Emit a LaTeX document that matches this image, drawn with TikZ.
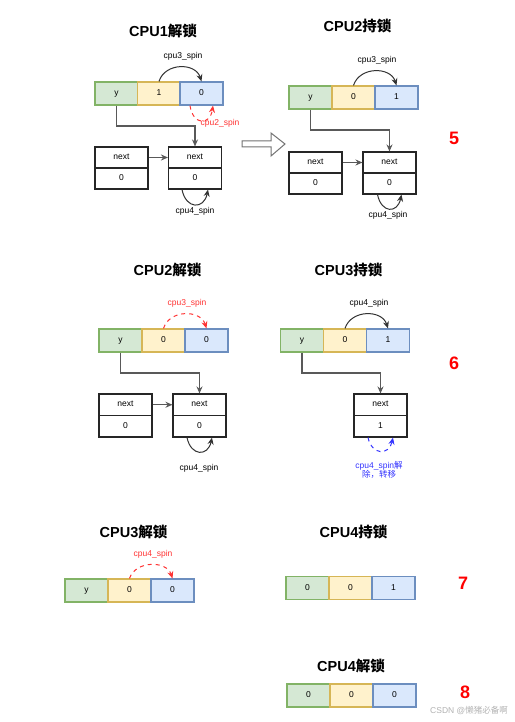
\documentclass[tikz,border=0pt]{standalone}
\usepackage{fontspec}
\setmainfont{Liberation Sans}
\newfontfamily\cjk{Noto Sans CJK SC}
\usetikzlibrary{arrows.meta,calc}
\definecolor{gfill}{HTML}{D5E8D4}\definecolor{gdraw}{HTML}{82B366}
\definecolor{yfill}{HTML}{FFF2CC}\definecolor{ydraw}{HTML}{D6B656}
\definecolor{bfill}{HTML}{DAE8FC}\definecolor{bdraw}{HTML}{6C8EBF}
\definecolor{lblred}{HTML}{FF3333}\definecolor{numred}{HTML}{FF0000}
\definecolor{lblblue}{HTML}{3333FF}
\begin{document}
\begin{tikzpicture}[x=1pt,y=-1pt,
  cell/.style={rectangle,inner sep=0pt,minimum width=43pt,minimum height=23pt,font=\fontsize{8.5}{10}\selectfont,text height=5.2pt,text depth=1.2pt,line width=1.2pt},
  gcell/.style={cell,fill=gfill,draw=gdraw},
  ycell/.style={cell,fill=yfill,draw=ydraw},
  bcell/.style={cell,fill=bfill,draw=bdraw},
  half/.style={rectangle,inner sep=0pt,minimum width=53pt,minimum height=21pt,draw=black!85,line width=1.1pt,fill=white,font=\fontsize{8.5}{10}\selectfont,text height=5.2pt,text depth=1.2pt},
  ttl/.style={font=\fontsize{14.5}{16}\selectfont\bfseries},
  lbl/.style={font=\fontsize{8.5}{10}\selectfont,inner sep=0pt},
  num/.style={font=\fontsize{18}{20}\selectfont\bfseries,text=numred},
  conn/.style={draw=black!65,line width=1.2pt,-{Stealth[length=7pt,width=6pt]}},
  spin/.style={draw=black!80,line width=1pt,-{Stealth[length=7pt,width=6pt]}},
  rspin/.style={draw=lblred,line width=1pt,dash pattern=on 4pt off 4pt,-{Stealth[length=7pt,width=6pt]}},
  bspin/.style={draw=lblblue,line width=1pt,dash pattern=on 4pt off 4pt,-{Stealth[length=7pt,width=6pt]}}
]
\useasboundingbox[fill=white] (0,0) rectangle (514,722);

% ---------- Panel 1: CPU1 unlock ----------
\node[ttl] (t1) at (163,31) {CPU1{\cjk 解锁}};
\node[gcell] (p1c1) at (116.5,93.5) {y};
\node[ycell] (p1c2) at (159,93.5) {1};
\node[bcell] (p1c3) at (201.5,93.5) {0};
\node[half] (p1a) at (121.5,157.5) {next};
\node[half] (p1av) at (121.5,178.5) {0};
\node[half] (p1b) at (195,157.5) {next};
\node[half] (p1bv) at (195,178.5) {0};
\draw[conn] (p1c1.south) -- (p1c1.south |- 0,126) -| (p1b.north);
\draw[conn] (p1a.east) -- (p1b.west);
\draw[spin] (p1c2.north) .. controls +(6,-19) and +(-6,-19) .. (p1c3.north);
\node[lbl] (l1a) at (183,56) {cpu3\_spin};
\draw[rspin] ([xshift=-11.5pt]p1c3.south) .. controls +(3,20) and +(-3,20) .. ([xshift=11.5pt]p1c3.south);
\node[lbl,text=lblred] (l1b) at (220,123) {cpu2\_spin};
\draw[spin] ([xshift=-13pt]p1bv.south) .. controls +(4,20) and +(-4,20) .. ([xshift=13pt]p1bv.south);
\node[lbl] (l1c) at (195,211) {cpu4\_spin};

% hollow arrow
\draw[draw=black!55,line width=1pt,fill=white] (242,141) -- (271,141) -- (271,133) -- (285,144) -- (271,156) -- (271,147) -- (242,147) -- cycle;

% ---------- Panel 2: CPU2 holds ----------
\node[ttl] (t2) at (357.5,26) {CPU2{\cjk 持锁}};
\node[gcell] (p2c1) at (310.5,97.5) {y};
\node[ycell] (p2c2) at (353.5,97.5) {0};
\node[bcell] (p2c3) at (396.5,97.5) {1};
\node[half] (p2a) at (315.5,162.5) {next};
\node[half] (p2av) at (315.5,183.5) {0};
\node[half] (p2b) at (389.5,162.5) {next};
\node[half] (p2bv) at (389.5,183.5) {0};
\draw[conn] (p2c1.south) -- (p2c1.south |- 0,130) -| (p2b.north);
\draw[conn] (p2a.east) -- (p2b.west);
\draw[spin] (p2c2.north) .. controls +(6,-19) and +(-6,-19) .. (p2c3.north);
\node[lbl] (l2a) at (377,60) {cpu3\_spin};
\draw[spin] ([xshift=-12pt]p2bv.south) .. controls +(4,19) and +(-4,19) .. ([xshift=12pt]p2bv.south);
\node[lbl] (l2c) at (388,215) {cpu4\_spin};
\node[num] (n5) at (454,138) {5};

% ---------- Panel 3: CPU2 unlock ----------
\node[ttl] (t3) at (167.5,270) {CPU2{\cjk 解锁}};
\node[gcell] (p3c1) at (120.5,340.5) {y};
\node[ycell] (p3c2) at (163.5,340.5) {0};
\node[bcell] (p3c3) at (206.5,340.5) {0};
\node[half,minimum height=21.5pt] (p3a) at (125.5,404.75) {next};
\node[half,minimum height=21.5pt] (p3av) at (125.5,426.25) {0};
\node[half,minimum height=21.5pt] (p3b) at (199.5,404.75) {next};
\node[half,minimum height=21.5pt] (p3bv) at (199.5,426.25) {0};
\draw[conn] (p3c1.south) -- (p3c1.south |- 0,373) -| (p3b.north);
\draw[conn] (p3a.east) -- (p3b.west);
\draw[rspin] (p3c2.north) .. controls +(6,-19) and +(-6,-19) .. (p3c3.north);
\node[lbl,text=lblred] (l3a) at (187,303) {cpu3\_spin};
\draw[spin] ([xshift=-12.5pt]p3bv.south) .. controls +(4,19) and +(-4,19) .. ([xshift=12.5pt]p3bv.south);
\node[lbl] (l3c) at (199,468) {cpu4\_spin};

% ---------- Panel 4: CPU3 holds ----------
\node[ttl] (t4) at (348.5,270) {CPU3{\cjk 持锁}};
\node[gcell] (p4c1) at (302,340.5) {y};
\node[ycell] (p4c2) at (345,340.5) {0};
\node[bcell] (p4c3) at (388,340.5) {1};
\node[half,minimum height=21.5pt] (p4b) at (380.5,404.75) {next};
\node[half,minimum height=21.5pt] (p4bv) at (380.5,426.25) {1};
\draw[conn] (p4c1.south) -- (p4c1.south |- 0,373) -| (p4b.north);
\draw[spin] (p4c2.north) .. controls +(6,-19) and +(-6,-19) .. (p4c3.north);
\node[lbl] (l4a) at (369,303) {cpu4\_spin};
\draw[bspin] ([xshift=-12.5pt]p4bv.south) .. controls +(4,18) and +(-4,18) .. ([xshift=12.5pt]p4bv.south);
\node[lbl,text=lblblue,align=center] (l4c) at (379,470) {cpu4\_spin{\cjk 解}\\[-1pt]{\cjk 除，转移}};
\node[num] (n6) at (454,363) {6};

% ---------- Panel 5: CPU3 unlock ----------
\node[ttl] (t5) at (133.5,532) {CPU3{\cjk 解锁}};
\node[gcell] (p5c1) at (86.5,590.5) {y};
\node[ycell] (p5c2) at (129.5,590.5) {0};
\node[bcell] (p5c3) at (172.5,590.5) {0};
\draw[rspin] (p5c2.north) .. controls +(6,-18) and +(-6,-18) .. (p5c3.north);
\node[lbl,text=lblred] (l5a) at (153,554) {cpu4\_spin};

% ---------- Panel 6: CPU4 holds ----------
\node[ttl] (t6) at (353.5,532) {CPU4{\cjk 持锁}};
\node[gcell] (p6c1) at (307.5,588) {0};
\node[ycell] (p6c2) at (350.5,588) {0};
\node[bcell] (p6c3) at (393.5,588) {1};
\node[num] (n7) at (463,583) {7};

% ---------- Panel 7: CPU4 unlock ----------
\node[ttl] (t7) at (351,666) {CPU4{\cjk 解锁}};
\node[gcell] (p7c1) at (308.5,695.5) {0};
\node[ycell] (p7c2) at (351.5,695.5) {0};
\node[bcell] (p7c3) at (394.5,695.5) {0};
\node[num] (n8) at (465,692) {8};

% watermark
\node[lbl,text=black!30,anchor=east] (wm) at (508,710) {CSDN @{\cjk 懒猪必备啊}};
\end{tikzpicture}
\end{document}
